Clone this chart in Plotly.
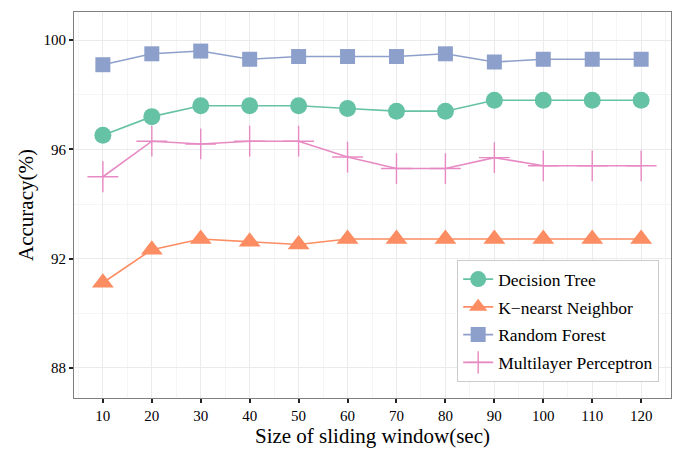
import plotly.graph_objects as go

window_sec = [10, 20, 30, 40, 50, 60, 70, 80, 90, 100, 110, 120]
decision_tree = [96.52, 97.2, 97.6, 97.6, 97.6, 97.5, 97.4, 97.4, 97.8, 97.8, 97.8, 97.8]
knn = [91.12, 92.33, 92.72, 92.62, 92.52, 92.72, 92.72, 92.72, 92.72, 92.72, 92.72, 92.72]
random_forest = [99.1, 99.5, 99.6, 99.3, 99.4, 99.4, 99.4, 99.5, 99.2, 99.3, 99.3, 99.3]
mlp = [95.0, 96.3, 96.2, 96.3, 96.3, 95.72, 95.3, 95.3, 95.7, 95.4, 95.4, 95.4]
y_ticks = [88, 92, 96, 100]

series = [
    ("Decision Tree", decision_tree, "#66C2A5", "circle", 17),
    ("K\u2212nearst Neighbor", knn, "#FC8D62", "triangle-up", 19),
    ("Random Forest", random_forest, "#8DA0CB", "square", 15),
    ("Multilayer Perceptron", mlp, "#E78AC3", "cross-thin", 22),
]

fig = go.Figure()
for name, vals, color, sym, size in series:
    fig.add_trace(go.Scatter(
        x=window_sec, y=vals, name=name, mode="lines+markers",
        legendgroup=name,
        line=dict(color=color, width=1.6),
        marker=dict(symbol=sym, size=size, color=color,
                    line=dict(color=color, width=1.4 if sym == "cross-thin" else 0)),
    ))

font_family = "Times New Roman"
grid = "#EBEBEB"
minor = dict(showgrid=True, gridcolor="#F5F5F5", gridwidth=0.6, ticks="")

fig.update_layout(
    width=681, height=452,
    margin=dict(l=66, r=18, t=4, b=62),
    paper_bgcolor="white", plot_bgcolor="white",
    font=dict(family=font_family, color="black"),
    showlegend=True,
    legend=dict(
        x=0.6415, y=0.3575, xanchor="left", yanchor="top",
        bgcolor="white", bordercolor="#CCCCCC", borderwidth=1.2,
        font=dict(size=17.5, family=font_family, color="black"),
        itemwidth=30, tracegroupgap=2,
    ),
)
fig.update_xaxes(
    range=[4.1, 126.1], tickvals=window_sec,
    ticks="outside", ticklen=4, tickcolor="#222222", tickwidth=1.5,
    tickfont=dict(size=15, family=font_family, color="black"),
    showgrid=True, gridcolor=grid, gridwidth=0.8,
    minor=dict(dtick=5, tick0=5, **minor),
    showline=True, linecolor="#7F7F7F", linewidth=1.2, mirror=True,
    zeroline=False,
    title=dict(text="Size of sliding window(sec)", font=dict(size=21, family=font_family), standoff=4),
)
fig.update_yaxes(
    range=[86.9, 101.03], tickvals=y_ticks,
    ticks="outside", ticklen=4, tickcolor="#222222", tickwidth=1.5,
    tickfont=dict(size=15, family=font_family, color="black"),
    showgrid=True, gridcolor=grid, gridwidth=0.8,
    minor=dict(dtick=2, tick0=86, **minor),
    showline=True, linecolor="#7F7F7F", linewidth=1.2, mirror=True,
    zeroline=False,
    title=dict(text="Accuracy(%)", font=dict(size=21, family=font_family), standoff=4),
)

fig.write_html("out.html")
